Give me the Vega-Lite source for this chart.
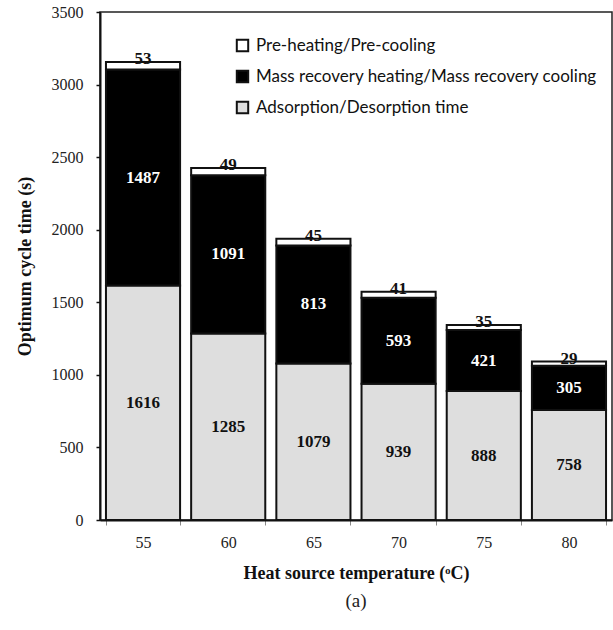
{
  "$schema": "https://vega.github.io/schema/vega-lite/v6.json",
  "width": 512,
  "height": 508,
  "autosize": {"type": "none"},
  "padding": {"left": 100, "top": 12, "right": 1, "bottom": 110},
  "background": "white",
  "config": {
    "view": {"stroke": "#222", "strokeWidth": 1.5},
    "font": "Liberation Serif",
    "axis": {"labelFont": "Liberation Serif", "titleFont": "Liberation Serif"}
  },
  "title": {
    "text": "(a)",
    "orient": "bottom",
    "font": "Liberation Serif",
    "fontSize": 19,
    "fontWeight": "normal",
    "color": "#222",
    "offset": 10
  },
  "data": {
    "values": [
      {"temp": "55", "type": "Adsorption/Desorption time", "value": 1616},
      {"temp": "55", "type": "Mass recovery heating/Mass recovery cooling", "value": 1487},
      {"temp": "55", "type": "Pre-heating/Pre-cooling", "value": 53},
      {"temp": "60", "type": "Adsorption/Desorption time", "value": 1285},
      {"temp": "60", "type": "Mass recovery heating/Mass recovery cooling", "value": 1091},
      {"temp": "60", "type": "Pre-heating/Pre-cooling", "value": 49},
      {"temp": "65", "type": "Adsorption/Desorption time", "value": 1079},
      {"temp": "65", "type": "Mass recovery heating/Mass recovery cooling", "value": 813},
      {"temp": "65", "type": "Pre-heating/Pre-cooling", "value": 45},
      {"temp": "70", "type": "Adsorption/Desorption time", "value": 939},
      {"temp": "70", "type": "Mass recovery heating/Mass recovery cooling", "value": 593},
      {"temp": "70", "type": "Pre-heating/Pre-cooling", "value": 41},
      {"temp": "75", "type": "Adsorption/Desorption time", "value": 888},
      {"temp": "75", "type": "Mass recovery heating/Mass recovery cooling", "value": 421},
      {"temp": "75", "type": "Pre-heating/Pre-cooling", "value": 35},
      {"temp": "80", "type": "Adsorption/Desorption time", "value": 758},
      {"temp": "80", "type": "Mass recovery heating/Mass recovery cooling", "value": 305},
      {"temp": "80", "type": "Pre-heating/Pre-cooling", "value": 29}
    ]
  },
  "encoding": {
    "x": {
      "field": "temp",
      "type": "ordinal",
      "scale": {"paddingInner": 0.13, "paddingOuter": 0.07},
      "axis": {
        "title": "Heat source temperature (ᵒC)",
        "titleFont": "Liberation Serif",
        "titleFontSize": 18,
        "titleFontWeight": "bold",
        "titleColor": "#111",
        "titlePadding": 14,
        "labelFont": "Liberation Serif",
        "labelFontSize": 16,
        "labelColor": "#222",
        "labelAngle": 0,
        "labelPadding": 9,
        "tickBand": "extent",
        "tickSize": 5,
        "tickColor": "#888",
        "domainColor": "#111",
        "domainWidth": 2
      }
    }
  },
  "layer": [
    {
      "mark": {"type": "bar", "stroke": "#111", "strokeWidth": 2},
      "encoding": {
        "y": {
          "field": "value",
          "type": "quantitative",
          "stack": "zero",
          "scale": {"domain": [0, 3500]},
          "axis": {
            "title": "Optimum cycle time (s)",
            "titleFont": "Liberation Serif",
            "titleFontSize": 18,
            "titleFontWeight": "bold",
            "titleColor": "#111",
            "titlePadding": 17,
            "values": [0, 500, 1000, 1500, 2000, 2500, 3000, 3500],
            "format": "d",
            "labelFont": "Liberation Serif",
            "labelFontSize": 16,
            "labelColor": "#222",
            "labelPadding": 13,
            "tickSize": 4,
            "tickColor": "#111",
            "tickWidth": 1.5,
            "domainColor": "#111",
            "domainWidth": 2,
            "grid": false
          }
        },
        "color": {
          "field": "type",
          "type": "nominal",
          "scale": {
            "domain": ["Pre-heating/Pre-cooling", "Mass recovery heating/Mass recovery cooling", "Adsorption/Desorption time"],
            "range": ["#ffffff", "#000000", "#dedede"]
          },
          "legend": {
            "title": null,
            "orient": "none",
            "legendX": 134,
            "legendY": 25,
            "symbolType": "square",
            "symbolSize": 130,
            "symbolStrokeColor": "#111",
            "symbolStrokeWidth": 2,
            "labelFont": "Lato",
            "labelFontSize": 17,
            "labelColor": "#111",
            "labelOffset": 5,
            "labelLimit": 0,
            "rowPadding": 10
          }
        },
        "order": {"field": "type", "sort": "ascending"}
      }
    },
    {
      "transform": [
        {"stack": "value", "groupby": ["temp"], "sort": [{"field": "type", "order": "ascending"}], "as": ["y0", "y1"]},
        {"filter": {"field": "type", "oneOf": ["Adsorption/Desorption time", "Mass recovery heating/Mass recovery cooling"]}},
        {"fold": ["y0", "y1"], "as": ["k", "pos"]}
      ],
      "mark": {"type": "text", "font": "Liberation Serif", "fontSize": 17, "fontWeight": "bold", "baseline": "middle"},
      "encoding": {
        "y": {"aggregate": "mean", "field": "pos", "type": "quantitative"},
        "detail": {"field": "type"},
        "text": {"field": "value", "type": "quantitative"},
        "color": {
          "condition": {"test": "datum.type === 'Mass recovery heating/Mass recovery cooling'", "value": "white"},
          "value": "#111"
        }
      }
    },
    {
      "transform": [
        {"stack": "value", "groupby": ["temp"], "sort": [{"field": "type", "order": "ascending"}], "as": ["y0", "y1"]},
        {"filter": {"field": "type", "equal": "Pre-heating/Pre-cooling"}}
      ],
      "mark": {"type": "text", "font": "Liberation Serif", "fontSize": 17, "fontWeight": "bold", "baseline": "alphabetic", "dy": 2, "color": "#111"},
      "encoding": {
        "y": {"field": "y1", "type": "quantitative"},
        "text": {"field": "value", "type": "quantitative"}
      }
    }
  ]
}
